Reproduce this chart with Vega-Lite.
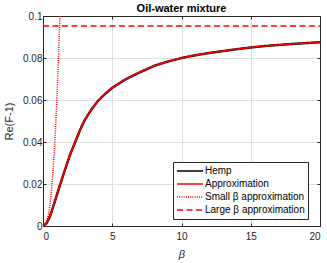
{
  "$schema": "https://vega.github.io/schema/vega-lite/v6.json",
  "width": 277,
  "height": 210,
  "autosize": {"type": "none"},
  "padding": {"left": 43, "top": 16, "right": 7, "bottom": 37},
  "config": {
    "font": "Liberation Sans",
    "view": {"stroke": "#262626", "strokeWidth": 1},
    "axis": {
      "labelFont": "Liberation Sans",
      "labelFontSize": 10,
      "labelColor": "#262626",
      "tickColor": "#262626",
      "domainColor": "#262626",
      "gridColor": "#dfdfdf",
      "gridWidth": 1,
      "titleFont": "Liberation Sans",
      "titleFontSize": 11,
      "titleFontWeight": "normal",
      "titleColor": "#262626",
      "tickSize": -3
    },
    "legend": {
      "labelFont": "Liberation Sans",
      "labelFontSize": 10,
      "labelColor": "#000000"
    }
  },
  "title": {"text": "Oil-water mixture", "fontSize": 11, "fontWeight": "bold", "color": "#000000", "offset": -3, "anchor": "middle", "font": "Liberation Sans"},
  "data": {"values": [
    {"s": "Large β approximation", "b": 0, "v": 0.0952},
    {"s": "Large β approximation", "b": 20, "v": 0.0952},
    {"s": "Small β approximation", "b": 0, "v": 0},
    {"s": "Small β approximation", "b": 0.1, "v": 0.0002},
    {"s": "Small β approximation", "b": 0.2, "v": 0.001},
    {"s": "Small β approximation", "b": 0.3, "v": 0.0028},
    {"s": "Small β approximation", "b": 0.4, "v": 0.0058},
    {"s": "Small β approximation", "b": 0.5, "v": 0.0102},
    {"s": "Small β approximation", "b": 0.6, "v": 0.0163},
    {"s": "Small β approximation", "b": 0.7, "v": 0.0242},
    {"s": "Small β approximation", "b": 0.8, "v": 0.034},
    {"s": "Small β approximation", "b": 0.9, "v": 0.0458},
    {"s": "Small β approximation", "b": 1.0, "v": 0.06},
    {"s": "Small β approximation", "b": 1.1, "v": 0.0765},
    {"s": "Small β approximation", "b": 1.2, "v": 0.0955},
    {"s": "Small β approximation", "b": 1.225, "v": 0.1},
    {"s": "Hemp", "b": 0, "v": 0},
    {"s": "Hemp", "b": 0.25, "v": 0.0012},
    {"s": "Hemp", "b": 0.5, "v": 0.0045},
    {"s": "Hemp", "b": 0.75, "v": 0.0095},
    {"s": "Hemp", "b": 1.0, "v": 0.0148},
    {"s": "Hemp", "b": 1.25, "v": 0.02},
    {"s": "Hemp", "b": 1.5, "v": 0.025},
    {"s": "Hemp", "b": 1.75, "v": 0.03},
    {"s": "Hemp", "b": 2.0, "v": 0.0348},
    {"s": "Hemp", "b": 2.33, "v": 0.04},
    {"s": "Hemp", "b": 2.66, "v": 0.0455},
    {"s": "Hemp", "b": 3.0, "v": 0.0503},
    {"s": "Hemp", "b": 3.5, "v": 0.0555},
    {"s": "Hemp", "b": 4.0, "v": 0.0598},
    {"s": "Hemp", "b": 4.5, "v": 0.063},
    {"s": "Hemp", "b": 5.0, "v": 0.0658},
    {"s": "Hemp", "b": 6.0, "v": 0.07},
    {"s": "Hemp", "b": 7.0, "v": 0.0732},
    {"s": "Hemp", "b": 8.0, "v": 0.0762},
    {"s": "Hemp", "b": 9.0, "v": 0.0783},
    {"s": "Hemp", "b": 10, "v": 0.08},
    {"s": "Hemp", "b": 11, "v": 0.0813},
    {"s": "Hemp", "b": 12, "v": 0.0824},
    {"s": "Hemp", "b": 13, "v": 0.0833},
    {"s": "Hemp", "b": 14, "v": 0.0842},
    {"s": "Hemp", "b": 15, "v": 0.085},
    {"s": "Hemp", "b": 16, "v": 0.0857},
    {"s": "Hemp", "b": 17, "v": 0.0862},
    {"s": "Hemp", "b": 18, "v": 0.0867},
    {"s": "Hemp", "b": 19, "v": 0.0871},
    {"s": "Hemp", "b": 20, "v": 0.0875},
    {"s": "Approximation", "b": 0, "v": 0},
    {"s": "Approximation", "b": 0.25, "v": 0.0012},
    {"s": "Approximation", "b": 0.5, "v": 0.0045},
    {"s": "Approximation", "b": 0.75, "v": 0.0095},
    {"s": "Approximation", "b": 1.0, "v": 0.0148},
    {"s": "Approximation", "b": 1.25, "v": 0.02},
    {"s": "Approximation", "b": 1.5, "v": 0.025},
    {"s": "Approximation", "b": 1.75, "v": 0.03},
    {"s": "Approximation", "b": 2.0, "v": 0.0348},
    {"s": "Approximation", "b": 2.33, "v": 0.04},
    {"s": "Approximation", "b": 2.66, "v": 0.0455},
    {"s": "Approximation", "b": 3.0, "v": 0.0503},
    {"s": "Approximation", "b": 3.5, "v": 0.0555},
    {"s": "Approximation", "b": 4.0, "v": 0.0598},
    {"s": "Approximation", "b": 4.5, "v": 0.063},
    {"s": "Approximation", "b": 5.0, "v": 0.0658},
    {"s": "Approximation", "b": 6.0, "v": 0.07},
    {"s": "Approximation", "b": 7.0, "v": 0.0732},
    {"s": "Approximation", "b": 8.0, "v": 0.0762},
    {"s": "Approximation", "b": 9.0, "v": 0.0783},
    {"s": "Approximation", "b": 10, "v": 0.08},
    {"s": "Approximation", "b": 11, "v": 0.0813},
    {"s": "Approximation", "b": 12, "v": 0.0824},
    {"s": "Approximation", "b": 13, "v": 0.0833},
    {"s": "Approximation", "b": 14, "v": 0.0842},
    {"s": "Approximation", "b": 15, "v": 0.085},
    {"s": "Approximation", "b": 16, "v": 0.0857},
    {"s": "Approximation", "b": 17, "v": 0.0862},
    {"s": "Approximation", "b": 18, "v": 0.0867},
    {"s": "Approximation", "b": 19, "v": 0.0871},
    {"s": "Approximation", "b": 20, "v": 0.0875}
  ]},
  "encoding": {
    "x": {"field": "b", "type": "quantitative", "scale": {"domain": [0, 20], "nice": false, "zero": false}},
    "y": {"field": "v", "type": "quantitative", "scale": {"domain": [0, 0.1], "nice": false}},
    "color": {
      "field": "s", "type": "nominal",
      "scale": {"domain": ["Hemp", "Approximation", "Small β approximation", "Large β approximation"], "range": ["#000000", "#ff0000", "#ff0000", "#ff0000"]},
      "legend": {"title": null, "orient": "none", "legendX": 130, "legendY": 146, "symbolType": "stroke", "symbolSize": 676, "symbolStrokeWidth": 1.5, "strokeColor": "#262626", "fillColor": "#ffffff", "padding": 3, "labelOffset": 1, "clipHeight": 12, "rowPadding": 1}
    },
    "strokeDash": {
      "field": "s", "type": "nominal",
      "scale": {"domain": ["Hemp", "Approximation", "Small β approximation", "Large β approximation"], "range": [[1, 0], [1, 0], [1, 1.2], [6, 3.5]]},
      "legend": {"title": null, "orient": "none", "legendX": 130, "legendY": 146, "symbolType": "stroke", "symbolSize": 676, "symbolStrokeWidth": 1.5, "strokeColor": "#262626", "fillColor": "#ffffff", "padding": 3, "labelOffset": 1, "clipHeight": 12, "rowPadding": 1}
    }
  },
  "layer": [
    {
      "transform": [{"filter": "datum.s == 'Large β approximation'"}],
      "mark": {"type": "line", "strokeWidth": 1.5, "clip": true},
      "encoding": {
        "x": {"field": "b", "type": "quantitative", "title": "β", "axis": {"values": [0, 5, 10, 15, 20], "titleFontStyle": "italic", "labelPadding": 8, "titlePadding": 7}},
        "y": {"field": "v", "type": "quantitative", "title": "Re(F-1)", "axis": {"values": [0, 0.02, 0.04, 0.06, 0.08, 0.1], "format": "~g", "labelPadding": 4, "titlePadding": 8}}
      }
    },
    {
      "transform": [{"filter": "datum.s == 'Small β approximation'"}],
      "mark": {"type": "line", "strokeWidth": 1.5, "clip": true},
      "encoding": {
        "x": {"field": "b", "type": "quantitative", "axis": null},
        "y": {"field": "v", "type": "quantitative", "axis": null}
      }
    },
    {
      "transform": [{"filter": "datum.s == 'Hemp'"}],
      "mark": {"type": "line", "strokeWidth": 2.4, "clip": true},
      "encoding": {
        "x": {"field": "b", "type": "quantitative", "axis": null},
        "y": {"field": "v", "type": "quantitative", "axis": null}
      }
    },
    {
      "transform": [{"filter": "datum.s == 'Approximation'"}],
      "mark": {"type": "line", "strokeWidth": 1.6, "clip": true},
      "encoding": {
        "x": {"field": "b", "type": "quantitative", "axis": null},
        "y": {"field": "v", "type": "quantitative", "axis": null}
      }
    },
    {
      "transform": [{"filter": "datum.s == 'Hemp'"}],
      "mark": {"type": "line", "strokeOpacity": 0},
      "encoding": {
        "x": {"field": "b", "type": "quantitative", "axis": {"orient": "top", "values": [0, 5, 10, 15, 20], "labels": false, "grid": false, "title": null}},
        "y": {"field": "v", "type": "quantitative", "axis": {"orient": "right", "values": [0, 0.02, 0.04, 0.06, 0.08, 0.1], "labels": false, "grid": false, "title": null}},
        "color": {"value": "#000000"},
        "strokeDash": {"value": [1, 0]}
      }
    }
  ],
  "resolve": {"axis": {"x": "independent", "y": "independent"}}
}
